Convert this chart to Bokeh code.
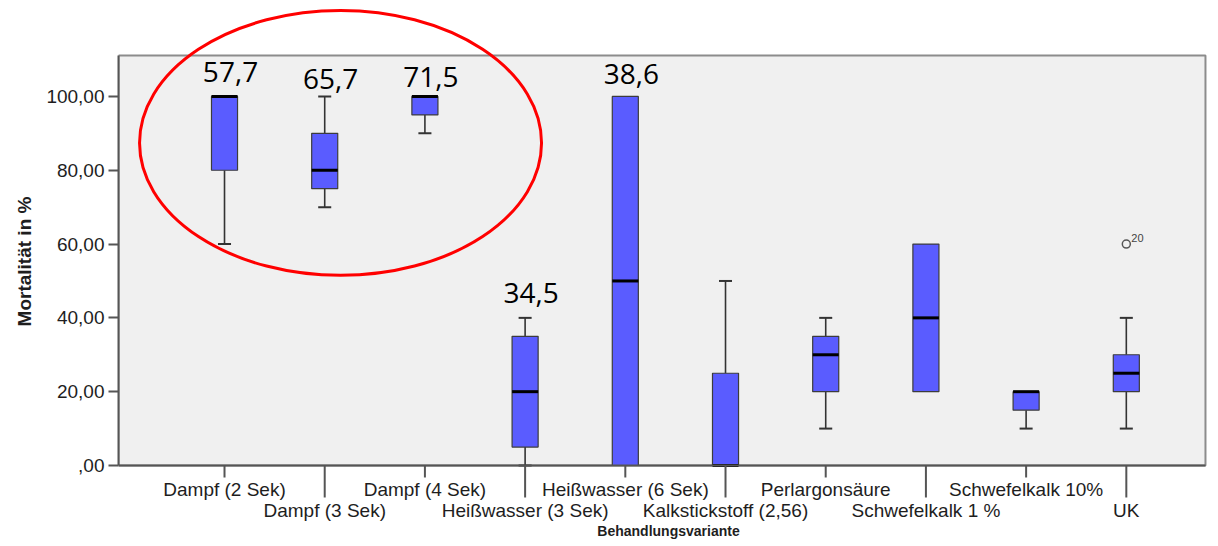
import numpy as np
from bokeh.plotting import figure
from bokeh.models import Range1d, FixedTicker
from bokeh.core.properties import value
from bokeh.embed import file_html
from bokeh.resources import INLINE

# Treatment variants and their mortality distributions (%)
categories = [
    "Dampf (2 Sek)", "Dampf (3 Sek)", "Dampf (4 Sek)", "Heißwasser (3 Sek)",
    "Heißwasser (6 Sek)", "Kalkstickstoff (2,56)", "Perlargonsäure",
    "Schwefelkalk 1 %", "Schwefelkalk 10%", "UK",
]
whisker_low = [60, 70, 90, 0, 0, 0, 10, 20, 10, 10]
q1 = [80, 75, 95, 5, 0, 0, 20, 20, 15, 20]
median = [100, 80, 100, 20, 50, 0, 30, 40, 20, 25]
q3 = [100, 90, 100, 35, 100, 25, 35, 60, 20, 30]
whisker_high = [100, 100, 100, 40, 100, 50, 40, 60, 20, 40]

# Outlier (case number shown beside it)
outlier_cat = ["UK"]
outlier_val = [60]
outlier_case = ["20"]

# Annotated values written above the first five variants
annot_cat = ["Dampf (2 Sek)", "Dampf (3 Sek)", "Dampf (4 Sek)",
             "Heißwasser (3 Sek)", "Heißwasser (6 Sek)"]
annot_text = ["57,7", "65,7", "71,5", "34,5", "38,6"]

y_ticks = [0, 20, 40, 60, 80, 100]
y_tick_labels = [",00", "20,00", "40,00", "60,00", "80,00", "100,00"]

# ---------------------------------------------------------------------------
pos = {c: i + 1 for i, c in enumerate(categories)}
xs = [pos[c] for c in categories]

BOX_W = 0.26
CAP_W = 0.13
FILL = "#5a5cff"
DARK = "#333333"
AXIS = "#555555"
FONT = "Liberation Sans"
Y_TOP = 111.1            # upper limit of the value axis
X_LEFT, X_RIGHT = -0.058, 10.79   # extent of the shaded plot area

p = figure(
    width=1218, height=546,
    x_range=Range1d(X_LEFT, 10.92), y_range=Range1d(-15.45, 126.0),
    output_backend="svg", toolbar_location=None,
    min_border_left=118, min_border_right=0,
    min_border_top=0, min_border_bottom=24,
)
p.background_fill_color = "white"
p.border_fill_color = "white"
p.outline_line_color = None
p.grid.visible = False

# y axis
p.yaxis.bounds = (0, Y_TOP)
p.yaxis.ticker = FixedTicker(ticks=y_ticks)
p.yaxis.major_label_overrides = dict(zip(y_ticks, y_tick_labels))
p.yaxis.major_label_text_font = FONT
p.yaxis.major_label_text_font_size = "19px"
p.yaxis.major_label_text_color = "#1e1e1e"
p.yaxis.major_label_standoff = 4
p.yaxis.major_tick_out = 10
p.yaxis.major_tick_in = 0
p.yaxis.minor_tick_out = 0
p.yaxis.minor_tick_in = 0
p.yaxis.axis_line_color = AXIS
p.yaxis.axis_line_width = 2
p.yaxis.major_tick_line_color = AXIS
p.yaxis.major_tick_line_width = 2
p.yaxis.axis_label = "Mortalität in %"
p.yaxis.axis_label_text_font = FONT
p.yaxis.axis_label_text_font_style = "bold"
p.yaxis.axis_label_text_font_size = "19px"
p.yaxis.axis_label_text_color = "#1e1e1e"
p.yaxis.axis_label_standoff = 8

# the bottom axis only carries the title; the category scale is drawn at y = 0
p.xaxis.ticker = FixedTicker(ticks=[])
p.xaxis.axis_line_color = None
p.xaxis.major_tick_out = 0
p.xaxis.minor_tick_out = 0
p.xaxis.major_label_text_font_size = "0px"
p.xaxis.axis_label = "Behandlungsvariante"
p.xaxis.axis_label_text_font = FONT
p.xaxis.axis_label_text_font_style = "bold"
p.xaxis.axis_label_text_font_size = "14px"
p.xaxis.axis_label_text_color = "#1e1e1e"
p.xaxis.axis_label_standoff = 0

# shaded plot area with its frame
p.quad(left=[X_LEFT], right=[X_RIGHT], bottom=[0], top=[Y_TOP],
       fill_color="#f0f0f0", line_color="#8c8c8c", line_width=2, level="underlay")

# whiskers
p.segment(x0=xs, y0=whisker_low, x1=xs, y1=q1, line_color=DARK, line_width=1.6)
p.segment(x0=xs, y0=q3, x1=xs, y1=whisker_high, line_color=DARK, line_width=1.6)
lo_caps = [(x, w) for x, w, b in zip(xs, whisker_low, q1) if w != b]
hi_caps = [(x, w) for x, w, b in zip(xs, whisker_high, q3) if w != b]
for caps in (lo_caps, hi_caps):
    p.segment(x0=[x - CAP_W / 2 for x, _ in caps], y0=[w for _, w in caps],
              x1=[x + CAP_W / 2 for x, _ in caps], y1=[w for _, w in caps],
              line_color=DARK, line_width=2)

# boxes and medians
p.vbar(x=xs, width=BOX_W, bottom=q1, top=q3, fill_color=FILL,
       line_color="#3c3c3c", line_width=1.2)
p.segment(x0=[x - BOX_W / 2 for x in xs], y0=median,
          x1=[x + BOX_W / 2 for x in xs], y1=median,
          line_color="black", line_width=3)

# category scale: axis line, alternating short/long ticks, staggered labels
PX = 3.69   # pixels per percentage point on the value axis
p.segment(x0=[X_LEFT], y0=[0], x1=[X_RIGHT], y1=[0], line_color=AXIS, line_width=2)
upper = [c for i, c in enumerate(categories) if i % 2 == 0]
lower = [c for i, c in enumerate(categories) if i % 2 == 1]
p.segment(x0=[pos[c] for c in upper], y0=0, x1=[pos[c] for c in upper], y1=-12 / PX,
          line_color=AXIS, line_width=2)
p.segment(x0=[pos[c] for c in lower], y0=0, x1=[pos[c] for c in lower], y1=-32 / PX,
          line_color=AXIS, line_width=2)
p.text(x=[pos[c] for c in upper], y=-24.5 / PX, text=upper, text_align="center",
       text_baseline="middle", text_font=value(FONT), text_font_size="19px",
       text_color="#1e1e1e")
p.text(x=[pos[c] for c in lower], y=-45 / PX, text=lower, text_align="center",
       text_baseline="middle", text_font=value(FONT), text_font_size="19px",
       text_color="#1e1e1e")

# outlier with its case number
ox = [pos[c] for c in outlier_cat]
p.scatter(x=ox, y=outlier_val, marker="circle", size=8, fill_color=None,
          line_color=AXIS, line_width=1.5)
p.text(x=ox, y=outlier_val, text=outlier_case, x_offset=5, y_offset=-6,
       text_font=value(FONT), text_font_size="11px", text_color="#444444",
       text_baseline="middle")

# annotated values, set a little above each upper whisker
ax = [pos[c] for c in annot_cat]
lift = [24, 17, 19, 25, 22]   # pixels between whisker end and text centre
ay = [whisker_high[pos[c] - 1] + d / PX for c, d in zip(annot_cat, lift)]
p.text(x=ax, y=ay, text=annot_text, x_offset=6, text_align="center",
       text_baseline="middle", text_font=value("Open Sans"),
       text_font_size="28px", text_color="black")

# red ring around the steam treatments
p.ellipse(x=[2.158], y=[87.4], width=[4.012], height=[71.8],
          fill_color=None, line_color="#ff0000", line_width=3)

open("out.html", "w").write(file_html(p, INLINE))
